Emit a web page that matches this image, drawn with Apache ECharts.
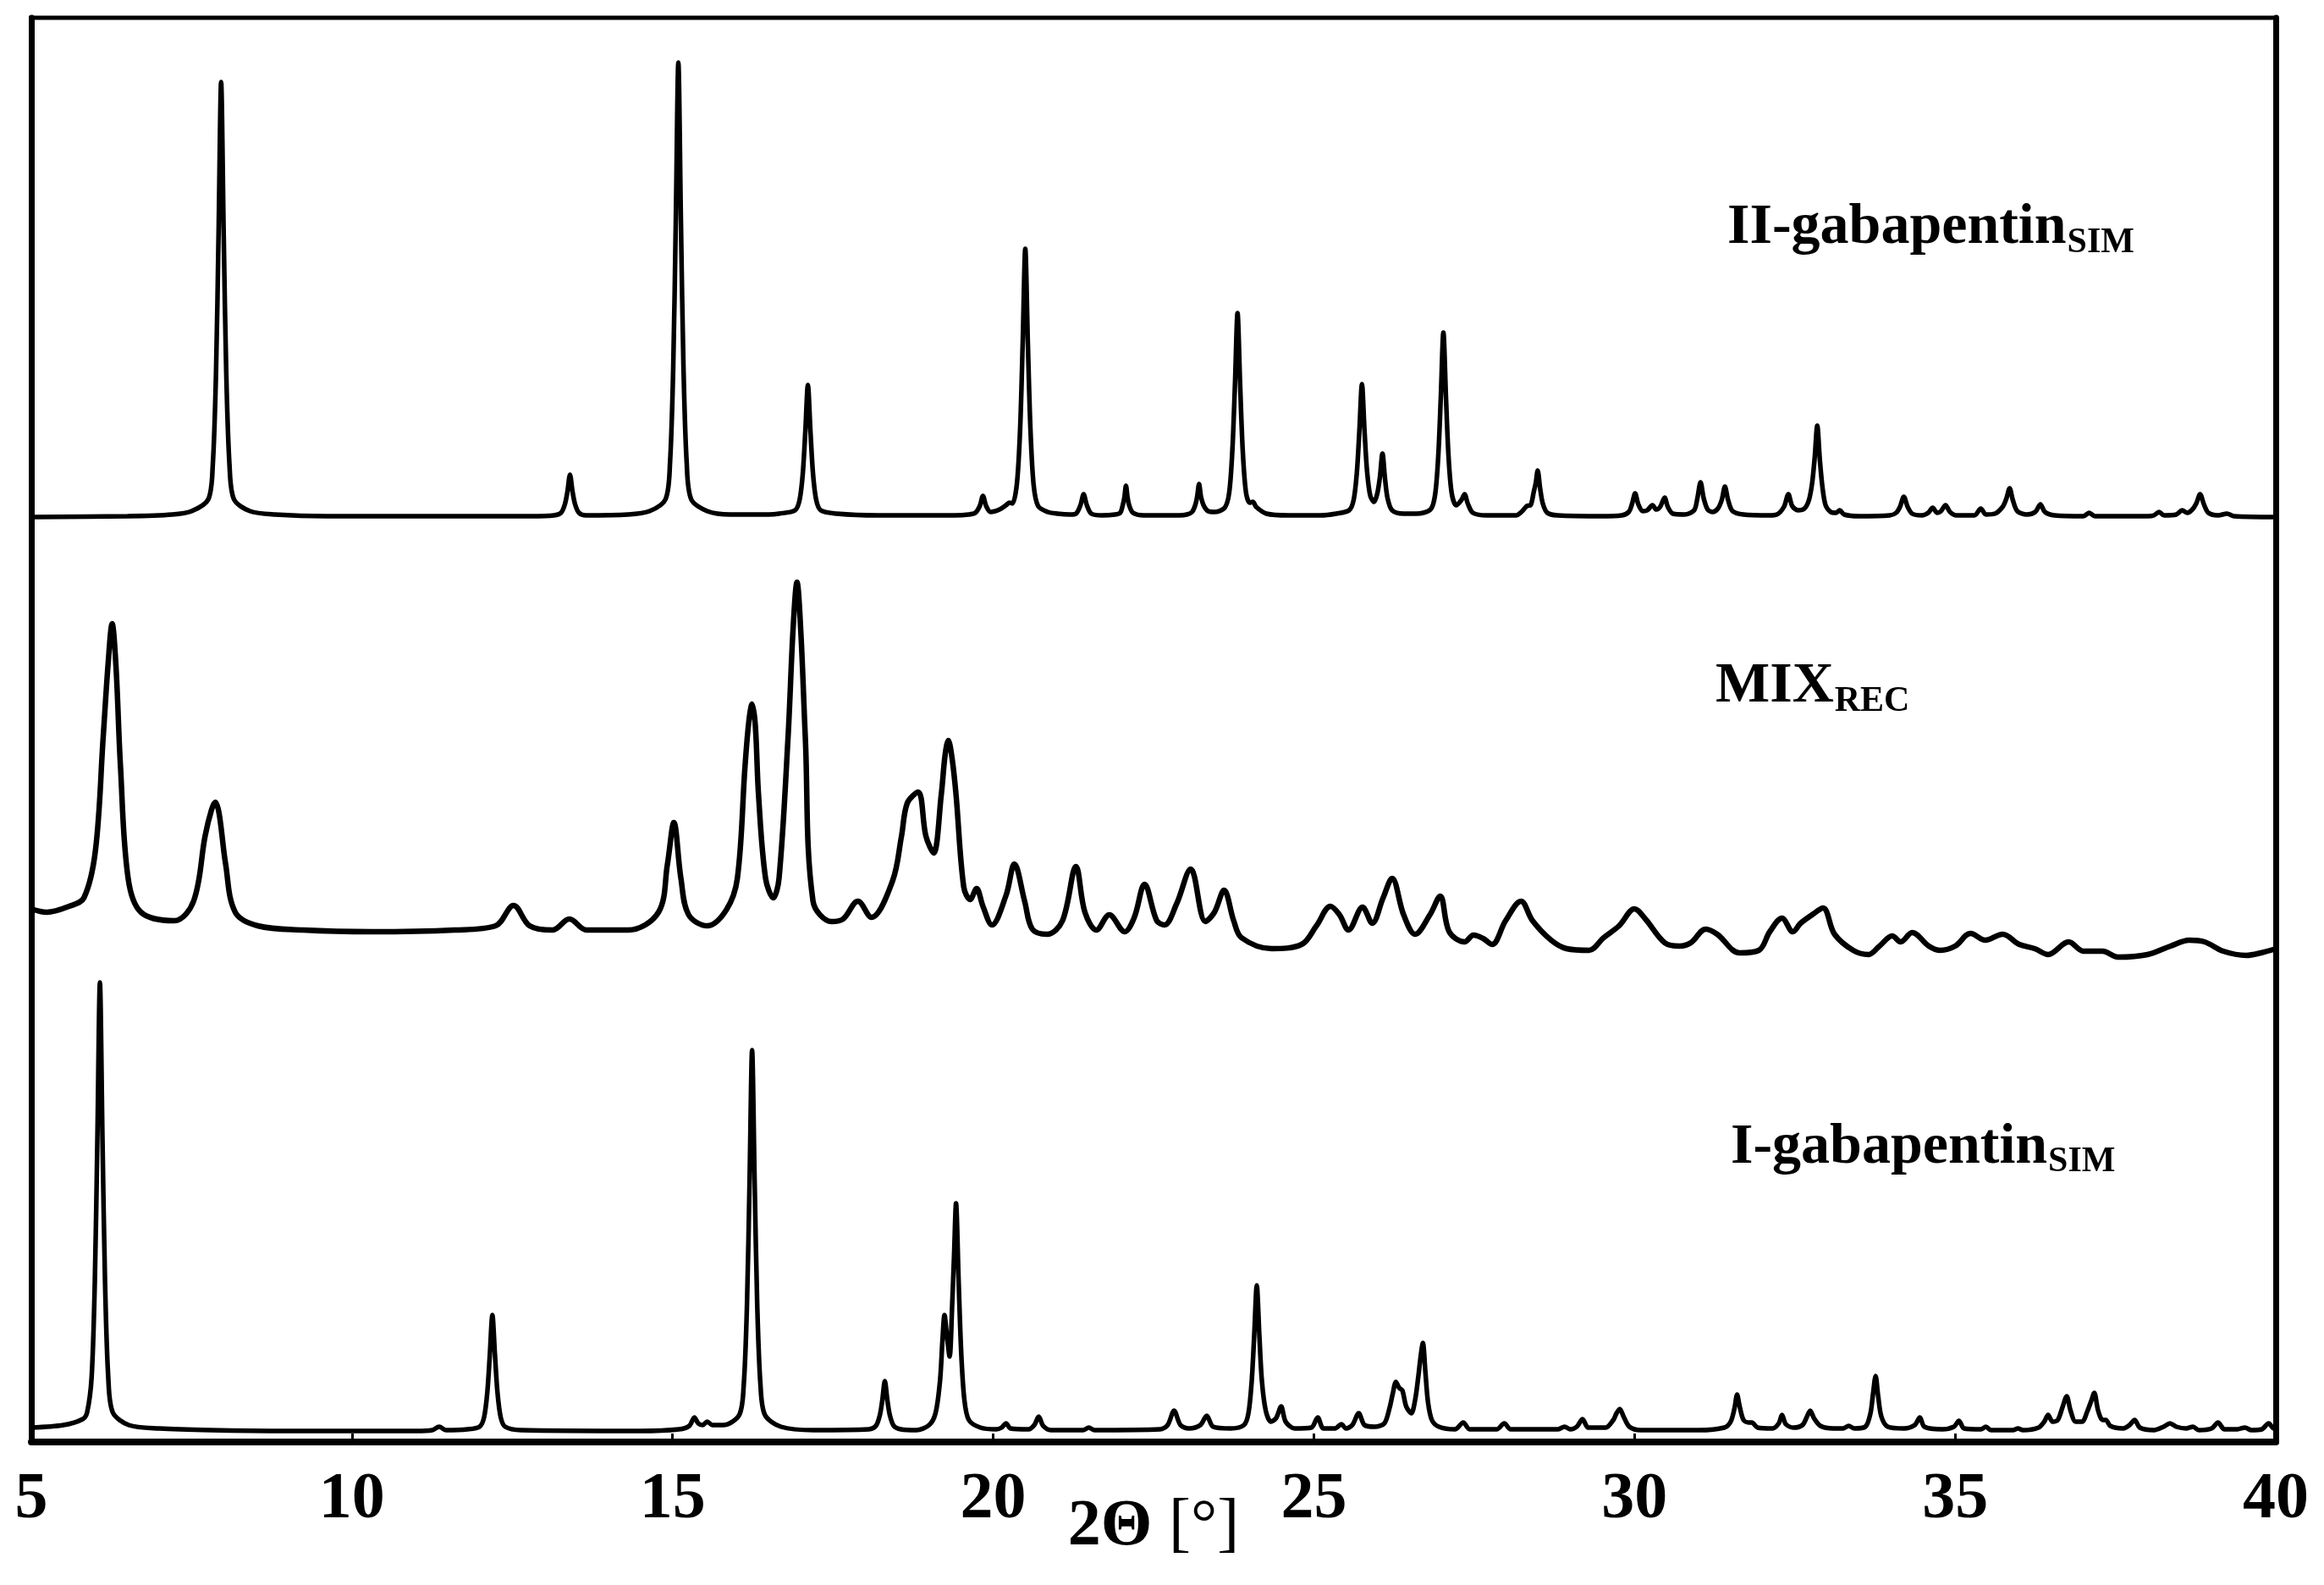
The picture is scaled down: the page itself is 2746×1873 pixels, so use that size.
<!DOCTYPE html>
<html>
<head>
<meta charset="utf-8">
<script src="https://cdn.jsdelivr.net/npm/echarts@6/dist/echarts.min.js"></script>
<style>
html,body{margin:0;padding:0;background:#fff;}
#c{width:2746px;height:1873px;}
</style>
</head>
<body>
<div id="c"></div>
<script>
// ---------- data ----------
const xTicks = [5, 10, 15, 20, 25, 30, 35, 40];
const traceNames = ['II-gabapentin', 'MIX', 'I-gabapentin'];
const traceSubs = ['SIM', 'REC', 'SIM'];

// II-gabapentin (simulated) : [2theta, intensity above its baseline]
const iiSim = [
[5.0,0],[6.5,1],[7.2,3],[7.5,7],[7.76,21],[7.83,62],[7.88,170],[7.92,334],[7.96,514],[8.0,334],[8.04,170],[8.09,62],[8.16,21],[8.41,7],[8.8,3],[9.6,1],[12.8,1],
[13.15,2],[13.26,5],[13.32,15],[13.36,30],[13.40,50],[13.44,30],[13.48,15],[13.54,5],[13.65,2],[14.3,3],[14.64,7],[14.89,21],[14.96,64],[15.01,177],[15.05,349],[15.09,537],[15.13,349],[15.17,177],[15.22,64],[15.29,21],[15.54,7],[15.9,3],[16.5,3],
[16.66,4],[16.91,8],[16.98,20],[17.03,51],[17.07,101],[17.11,156],[17.15,101],[17.19,51],[17.24,20],[17.31,8],[17.56,4],[18.2,2],[19.4,2],
[19.62,3],[19.72,5],[19.79,13],[19.84,25],[19.89,13],[19.96,6],[20.10,9],[20.20,14],[20.25,17],[20.30,16],[20.37,40],[20.42,105],[20.46,206],[20.50,317],[20.54,206],[20.58,105],[20.63,38],[20.70,13],[20.85,6],[21.0,4],
[21.2,3],[21.29,4],[21.36,14],[21.41,27],[21.46,14],[21.53,4],[21.7,2],
[21.9,3],[21.98,5],[22.02,14],[22.045,23],[22.07,37],[22.095,23],[22.12,14],[22.18,5],[22.35,2],[22.9,2],
[23.02,3],[23.10,6],[23.15,14],[23.18,24],[23.21,39],[23.24,24],[23.28,14],[23.35,7],[23.45,6],[23.61,11],[23.68,29],[23.73,80],[23.77,157],[23.81,241],[23.85,157],[23.89,80],[23.94,30],[24.0,17],[24.05,18],[24.10,12],[24.26,4],[24.6,2],[25.1,2],
[25.35,4],[25.55,8],[25.62,20],[25.67,52],[25.71,102],[25.75,157],[25.79,102],[25.83,54],[25.88,25],[25.94,18],[25.99,28],[26.03,47],[26.07,75],[26.11,45],[26.15,22],[26.22,8],[26.4,4],[26.6,4],
[26.82,9],[26.89,26],[26.94,72],[26.98,142],[27.02,218],[27.06,142],[27.10,72],[27.15,28],[27.22,14],[27.30,20],[27.35,27],[27.40,16],[27.48,5],[27.7,2],
[28.15,2],[28.25,7],[28.32,13],[28.38,14],[28.43,30],[28.46,40],[28.49,55],[28.53,33],[28.57,16],[28.64,5],[28.8,2],[29.5,1],
[29.8,2],[29.91,6],[29.96,15],[30.01,28],[30.06,15],[30.13,7],[30.20,8],[30.28,14],[30.34,9],[30.40,12],[30.47,23],[30.52,12],[30.60,4],[30.78,3],
[30.93,8],[30.98,22],[31.03,41],[31.08,22],[31.14,9],[31.22,6],[31.30,10],[31.36,20],[31.41,36],[31.46,20],[31.53,7],[31.7,3],[32.1,2],
[32.22,3],[32.33,12],[32.40,27],[32.46,13],[32.55,8],[32.65,10],[32.72,20],[32.77,40],[32.81,70],[32.85,108],[32.89,68],[32.93,36],[32.98,14],[33.06,6],[33.14,5],[33.20,8],[33.27,3],[33.5,1],
[33.98,2],[34.08,5],[34.14,12],[34.20,24],[34.26,12],[34.33,4],[34.48,2],[34.58,5],[34.65,11],[34.72,5],[34.78,7],[34.85,14],[34.92,6],[35.02,2],
[35.30,2],[35.40,10],[35.48,3],[35.62,4],[35.74,12],[35.80,22],[35.85,34],[35.90,20],[35.97,7],[36.12,3],[36.25,6],[36.33,15],[36.40,6],[36.55,2],
[37.0,1],[37.09,5],[37.18,1],[38.0,1],[38.10,2],[38.18,6],[38.26,2],[38.45,3],[38.54,8],[38.62,5],[38.70,9],[38.76,16],[38.82,27],[38.88,15],[38.95,5],[39.10,2],[39.24,4],[39.35,1],[40.0,0]
];

// MIX (recorded) : [2theta, intensity above its baseline]
const mixRec = [
[5.00,58],[5.24,54],[5.59,61],[5.82,71],[6.00,127],[6.12,260],[6.20,350],[6.26,395],[6.32,345],[6.39,227],[6.51,94],[6.71,54],[7.23,44],[7.53,67],[7.71,144],[7.81,175],[7.87,184],[7.93,170],[8.03,111],[8.18,54],[8.53,38],[9.24,33],[10.30,31],[11.60,33],[12.24,38],[12.52,62],[12.77,38],[13.13,33],[13.39,46],[13.66,33],[14.31,33],[14.78,54],[14.92,111],[15.02,160],[15.13,94],[15.25,51],[15.54,38],[15.84,57],[16.01,94],[16.13,227],[16.19,280],[16.24,300],[16.29,275],[16.34,193],[16.45,94],[16.57,71],[16.66,94],[16.80,260],[16.88,390],[16.94,444],[17.00,385],[17.07,260],[17.19,67],[17.48,43],[17.66,46],[17.89,67],[18.10,48],[18.43,91],[18.57,144],[18.66,183],[18.83,196],[18.95,144],[19.07,124],[19.19,193],[19.25,240],[19.30,257],[19.36,235],[19.42,193],[19.54,84],[19.64,69],[19.74,82],[19.84,61],[19.98,39],[20.20,74],[20.33,111],[20.49,67],[20.61,34],[20.84,28],[21.08,44],[21.29,108],[21.43,54],[21.61,33],[21.81,51],[22.05,31],[22.20,48],[22.36,87],[22.55,44],[22.67,39],[22.86,64],[23.08,105],[23.31,43],[23.45,54],[23.60,80],[23.75,44],[23.87,24],[24.34,11],[24.81,16],[25.04,38],[25.26,61],[25.40,51],[25.54,33],[25.76,60],[25.91,41],[26.08,71],[26.22,94],[26.40,51],[26.58,28],[26.81,51],[26.97,73],[27.11,31],[27.35,19],[27.49,27],[27.64,23],[27.78,16],[27.99,44],[28.23,67],[28.41,44],[28.70,21],[28.94,11],[29.29,9],[29.52,24],[29.76,38],[30.00,58],[30.17,46],[30.47,18],[30.70,14],[30.88,18],[31.11,34],[31.29,28],[31.64,6],[31.94,9],[32.11,31],[32.30,47],[32.47,31],[32.59,41],[32.77,51],[32.94,59],[33.12,28],[33.41,9],[33.65,4],[33.82,14],[34.02,26],[34.15,19],[34.33,30],[34.59,14],[34.77,9],[35.00,14],[35.24,29],[35.47,21],[35.74,28],[36.00,16],[36.24,11],[36.45,4],[36.77,19],[37.00,8],[37.30,8],[37.54,1],[38.00,4],[38.36,14],[38.65,21],[38.89,19],[39.18,8],[39.54,3],[39.77,6],[40.00,11]
];

// I-gabapentin (simulated) : [2theta, intensity above its baseline]
const iSim = [
[5.0,5],[5.5,8],[5.80,15],[5.87,23],[5.94,64],[5.99,176],[6.03,345],[6.07,531],[6.11,345],[6.15,176],[6.20,64],[6.27,23],[6.52,8],[7.0,4],[7.8,2],[9.0,1],[11.0,1],[11.25,2],[11.36,6],[11.47,2],[11.8,3],
[11.99,6],[12.06,17],[12.11,46],[12.15,91],[12.19,138],[12.23,91],[12.27,46],[12.32,17],[12.39,6],[12.64,2],[14.5,1],[15.10,3],[15.26,7],[15.34,17],[15.40,10],[15.47,8],[15.54,12],[15.62,8],[15.79,8],
[16.04,20],[16.11,56],[16.16,150],[16.20,294],[16.24,451],[16.28,294],[16.32,150],[16.37,56],[16.44,20],[16.69,6],[17.2,2],[18.06,3],[18.17,7],[18.23,19],[18.27,37],[18.31,60],[18.35,37],[18.39,19],[18.45,7],[18.56,3],[18.8,2],
[19.0,8],[19.10,22],[19.17,60],[19.21,110],[19.24,138],[19.28,112],[19.32,89],[19.36,150],[19.39,210],[19.42,270],[19.46,180],[19.50,95],[19.55,38],[19.62,14],[19.80,5],[20.05,3],[20.13,5],[20.20,10],[20.27,4],[20.55,3],[20.64,8],[20.71,18],[20.78,7],[20.9,2],
[21.40,2],[21.49,5],[21.58,2],[22.60,3],[22.72,8],[22.82,25],[22.92,8],[23.05,4],[23.23,8],[23.33,19],[23.43,6],[23.70,4],[23.91,8],[23.98,22],[24.03,59],[24.07,114],[24.11,173],[24.15,114],[24.19,60],[24.25,25],[24.33,12],[24.41,16],[24.49,30],[24.56,12],[24.70,4],
[24.96,5],[25.06,17],[25.15,4],[25.33,4],[25.43,9],[25.50,4],[25.60,8],[25.70,22],[25.79,8],[25.95,6],[26.10,10],[26.18,28],[26.23,45],[26.28,59],[26.33,52],[26.38,49],[26.44,30],[26.52,22],[26.58,38],[26.63,66],[26.67,92],[26.70,105],[26.74,70],[26.78,35],[26.84,14],[26.95,6],
[27.20,3],[27.33,11],[27.43,3],[27.85,3],[27.97,10],[28.07,3],[28.80,3],[28.91,6],[29.00,3],[29.10,6],[29.19,15],[29.28,5],[29.55,5],[29.67,14],[29.72,22],[29.77,27],[29.83,18],[29.92,6],[30.10,2],[31.0,2],
[31.40,5],[31.50,12],[31.56,28],[31.60,44],[31.64,30],[31.70,14],[31.78,11],[31.83,11],[31.92,5],[32.15,4],[32.25,10],[32.30,20],[32.36,9],[32.48,5],[32.62,8],[32.69,18],[32.74,25],[32.80,16],[32.90,7],[33.10,4],[33.25,4],[33.34,7],[33.43,4],
[33.60,6],[33.68,22],[33.72,45],[33.76,66],[33.80,42],[33.85,18],[33.95,6],[34.20,4],[34.37,8],[34.45,17],[34.52,6],[34.80,3],[34.98,6],[35.06,13],[35.14,4],[35.40,3],[35.48,6],[35.56,2],[35.90,2],[35.98,4],[36.06,2],
[36.30,5],[36.39,12],[36.45,20],[36.52,12],[36.60,14],[36.67,28],[36.74,42],[36.80,25],[36.88,12],[36.98,12],[37.06,24],[37.12,36],[37.17,46],[37.23,25],[37.30,14],[37.35,14],[37.42,7],[37.62,4],[37.72,8],[37.80,14],[37.88,5],
[38.10,2],[38.25,6],[38.35,10],[38.45,6],[38.60,4],[38.71,6],[38.80,2],[39.00,4],[39.10,11],[39.20,3],[39.40,3],[39.52,5],[39.62,2],[39.78,3],[39.89,10],[39.97,4],[40.0,4]
];

// vertical stacking offsets (same units as intensity)
const offsetII = 1093;
const offsetMix = 572;
const offsetI = 12;
const yMax = 1683;

// ---------- layout / style ----------
const FONT = '"Liberation Serif", "Times New Roman", serif';
const labelPos = [
  {x: 2041, base: 292.7, subBase: 301},
  {x: 2027, base: 834, subBase: 843},
  {x: 2045, base: 1379.4, subBase: 1387.5}
];
const mainSize = 68, subSize = 42;

const mctx = document.createElement('canvas').getContext('2d');
function textWidth(t, size) {
  mctx.font = 'bold ' + size + 'px ' + FONT;
  return mctx.measureText(t).width;
}

const graphics = [];
traceNames.forEach((name, i) => {
  const p = labelPos[i];
  const w = textWidth(name, mainSize);
  graphics.push({
    type: 'text', silent: true,
    style: {
      text: name, x: p.x, y: p.base - 0.3375 * mainSize,
      font: 'bold ' + mainSize + 'px ' + FONT, fill: '#000',
      align: 'left', verticalAlign: 'middle', textAlign: 'left', textVerticalAlign: 'middle'
    }
  });
  graphics.push({
    type: 'text', silent: true,
    style: {
      text: traceSubs[i], x: p.x + w + 1, y: p.subBase - 0.3375 * subSize,
      font: 'bold ' + subSize + 'px ' + FONT, fill: '#000',
      align: 'left', verticalAlign: 'middle', textAlign: 'left', textVerticalAlign: 'middle'
    }
  });
});

function shift(arr, off) { return arr.map(p => [p[0], p[1] + off]); }

const lineBase = {
  type: 'line', showSymbol: false, symbol: 'none', silent: true,
  smooth: 0.3, animation: false, z: 3
};

const chart = echarts.init(document.getElementById('c'), null, {renderer: 'canvas'});
chart.setOption({
  animation: false,
  backgroundColor: '#fff',
  grid: {left: 37, right: 57, top: 21, bottom: 169, show: true, borderColor: '#000', borderWidth: 5,
         backgroundColor: 'transparent', containLabel: false, outerBoundsMode: 'none'},
  xAxis: {
    type: 'value',
    min: xTicks[0], max: xTicks[xTicks.length - 1], interval: xTicks[1] - xTicks[0],
    axisLine: {show: true, onZero: false, lineStyle: {color: '#000', width: 8}},
    axisTick: {show: true, inside: true, length: 10, lineStyle: {color: '#000', width: 3}},
    axisLabel: {fontFamily: FONT, fontWeight: 'bold', fontSize: 78, color: '#000', margin: 30, showMinLabel: true, showMaxLabel: true, hideOverlap: false},
    splitLine: {show: false},
    name: '{b|2Θ }{n|[°]}',
    nameLocation: 'middle', nameGap: 62, nameMoveOverlap: false,
    nameTextStyle: {
      rich: {
        b: {fontFamily: FONT, fontWeight: 'bold', fontSize: 78, color: '#000'},
        n: {fontFamily: FONT, fontWeight: 'normal', fontSize: 78, color: '#000'}
      }
    }
  },
  yAxis: [
    {type: 'value', min: 0, max: yMax, position: 'left',
     axisLine: {show: true, lineStyle: {color: '#000', width: 7}},
     axisTick: {show: false}, axisLabel: {show: false}, splitLine: {show: false}},
    {type: 'value', min: 0, max: yMax, position: 'right',
     axisLine: {show: true, lineStyle: {color: '#000', width: 7}},
     axisTick: {show: false}, axisLabel: {show: false}, splitLine: {show: false}}
  ],
  series: [
    Object.assign({}, lineBase, {name: traceNames[0], data: shift(iiSim, offsetII), lineStyle: {color: '#000', width: 5.5}}),
    Object.assign({}, lineBase, {name: traceNames[1], data: shift(mixRec, offsetMix), smooth: 0.35, lineStyle: {color: '#000', width: 6.5}}),
    Object.assign({}, lineBase, {name: traceNames[2], data: shift(iSim, offsetI), lineStyle: {color: '#000', width: 5.5}})
  ],
  graphic: graphics
});
</script>
</body>
</html>
